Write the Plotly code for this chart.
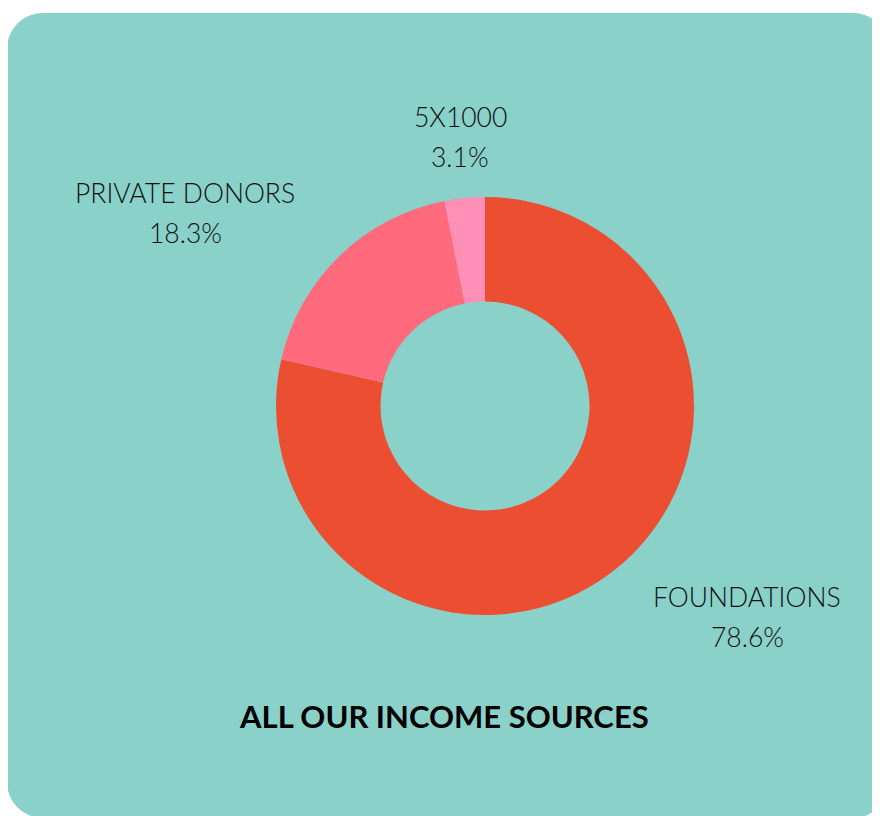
import plotly.graph_objects as go

# ---- data ----
labels = ["FOUNDATIONS", "PRIVATE DONORS", "5X1000"]
values = [78.6, 18.3, 3.1]
colors = ["#EC4E32", "#FF6A7C", "#FF8FB6"]
title_text = "ALL OUR INCOME SOURCES"

OFF = 8                     # page offset of the figure (body margin)
W, H = 880 - OFF, 816 - OFF
TEAL = "#8AD1CA"
FONT = "Lato"

# helpers: page pixel -> paper fraction
def px(x):
    return (x - OFF) / W

def py(y):
    return 1 - (y - OFF) / H

fig = go.Figure()

cx, cy, R = 485, 406, 209
fig.add_trace(go.Pie(
    labels=labels,
    values=values,
    hole=0.5,
    sort=False,
    direction="clockwise",
    rotation=0,
    textinfo="none",
    hoverinfo="label+percent",
    marker=dict(colors=colors, line=dict(width=0)),
    showlegend=False,
    domain=dict(x=[px(cx - R), px(cx + R)], y=[py(cy + R), py(cy - R)]),
))

# rounded background rectangle
x0, y0, x1, y1, r = 7, 13, 889, 818, 36
k = 0.5523 * r
def P(x, y):
    return f"{px(x):.5f},{py(y):.5f}"
path = (
    f"M {P(x0 + r, y0)} L {P(x1 - r, y0)} "
    f"C {P(x1 - r + k, y0)} {P(x1, y0 + r - k)} {P(x1, y0 + r)} "
    f"L {P(x1, y1 - r)} "
    f"C {P(x1, y1 - r + k)} {P(x1 - r + k, y1)} {P(x1 - r, y1)} "
    f"L {P(x0 + r, y1)} "
    f"C {P(x0 + r - k, y1)} {P(x0, y1 - r + k)} {P(x0, y1 - r)} "
    f"L {P(x0, y0 + r)} "
    f"C {P(x0, y0 + r - k)} {P(x0 + r - k, y0)} {P(x0 + r, y0)} Z"
)
fig.add_shape(type="path", path=path, xref="paper", yref="paper",
              fillcolor=TEAL, line=dict(width=0), layer="below")

# slice labels: name line and percent line
label_pos = {
    "FOUNDATIONS": (747, 597, 637),
    "PRIVATE DONORS": (185, 193, 233),
    "5X1000": (460, 117, 157),
}
total = sum(values)
for lab, val in zip(labels, values):
    x, yn, yp = label_pos[lab]
    pct = f"{val / total * 100:.1f}%"
    for txt, yy in ((lab, yn), (pct, yp)):
        fig.add_annotation(x=px(x), y=py(yy), xref="paper", yref="paper",
                           text=txt, showarrow=False,
                           xanchor="center", yanchor="middle",
                           font=dict(family=FONT, size=26.5, color="#111111",
                                     weight=300))

fig.add_annotation(x=px(444), y=py(716), xref="paper", yref="paper",
                   text=f"<b>{title_text}</b>", showarrow=False,
                   xanchor="center", yanchor="middle",
                   font=dict(family=FONT, size=31, color="#000000", weight=900))

fig.update_layout(
    width=W, height=H,
    margin=dict(l=0, r=0, t=0, b=0),
    paper_bgcolor="white",
    plot_bgcolor="white",
)

fig.write_html("out.html")
